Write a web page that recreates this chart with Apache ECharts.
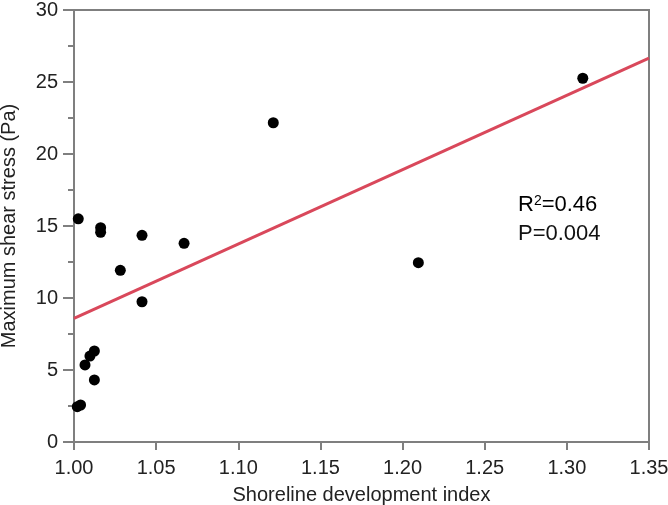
<!DOCTYPE html>
<html>
<head>
<meta charset="utf-8">
<script src="https://cdn.jsdelivr.net/npm/echarts@6/dist/echarts.min.js"></script>
<style>html,body{margin:0;padding:0;background:#fff;}#c{width:668px;height:505px;}</style>
</head>
<body>
<div id="c"></div>
<script>
var sdi = [1.0026, 1.0162, 1.0162, 1.0414, 1.0670, 1.0282, 1.0414, 1.1213, 1.2096, 1.3097, 1.0124, 1.0097, 1.0067, 1.0124, 1.0040, 1.0020];
var stress = [15.5, 14.88, 14.56, 14.35, 13.8, 11.92, 9.74, 22.17, 12.45, 25.26, 6.32, 5.97, 5.35, 4.31, 2.57, 2.45];
var fitX = [1.00, 1.35];
var fitY = [8.59, 26.65];
var annotR2 = '0.46';
var annotP = '0.004';

var pts = sdi.map(function (x, i) { return [x, stress[i]]; });
var fit = fitX.map(function (x, i) { return [x, fitY[i]]; });
var font = '"Liberation Sans", Arial, Helvetica, sans-serif';
var axisGray = '#7f7f7f';

var chart = echarts.init(document.getElementById('c'));
chart.setOption({
  animation: false,
  backgroundColor: '#fff',
  grid: { left: 74, right: 19, top: 10, bottom: 63, containLabel: false, outerBoundsMode: 'none', show: true, borderColor: axisGray, borderWidth: 2, backgroundColor: 'transparent' },
  xAxis: {
    type: 'value', min: 1.0, max: 1.35, interval: 0.05,
    name: 'Shoreline development index', nameLocation: 'middle', nameGap: 43,
    nameTextStyle: { fontFamily: font, fontSize: 20, color: '#222' },
    axisLine: { show: true, lineStyle: { color: axisGray, width: 2 } },
    axisTick: { show: true, inside: false, length: 8, lineStyle: { color: axisGray, width: 2 } },
    axisLabel: { fontFamily: font, fontSize: 20, color: '#222', margin: 16, formatter: function (v) { return v.toFixed(2); } },
    splitLine: { show: false }
  },
  yAxis: {
    type: 'value', min: 0, max: 30, interval: 5,
    name: 'Maximum shear stress (Pa)', nameLocation: 'middle', nameGap: 55,
    nameTextStyle: { fontFamily: font, fontSize: 20, color: '#222' },
    axisLine: { show: true, lineStyle: { color: axisGray, width: 2 } },
    axisTick: { show: true, inside: false, length: 11, lineStyle: { color: axisGray, width: 2 } },
    minorTick: { show: true, splitNumber: 2, length: 6, lineStyle: { color: axisGray, width: 2 } },
    axisLabel: { fontFamily: font, fontSize: 20, color: '#222', margin: 16 },
    splitLine: { show: false }
  },
  series: [
    {
      type: 'line', data: fit, symbol: 'none', silent: true,
      lineStyle: { color: '#d9485b', width: 3 }, z: 2
    },
    {
      type: 'scatter', data: pts, symbol: 'circle', symbolSize: 11,
      itemStyle: { color: '#000', opacity: 1 }, z: 3
    }
  ],
  graphic: [
    {
      type: 'text', left: 518, top: 194,
      style: {
        text: '{b|R}{s|2}{b|=' + annotR2 + '}',
        rich: {
          b: { fontFamily: font, fontSize: 22, color: '#111', verticalAlign: 'bottom' },
          s: { fontFamily: font, fontSize: 14, color: '#111', verticalAlign: 'top', padding: [0, 0, 8, 0] }
        }
      }
    },
    {
      type: 'text', left: 518, top: 223,
      style: { text: 'P=' + annotP, fontFamily: font, fontSize: 22, fill: '#111' }
    }
  ]
});
</script>
</body>
</html>
